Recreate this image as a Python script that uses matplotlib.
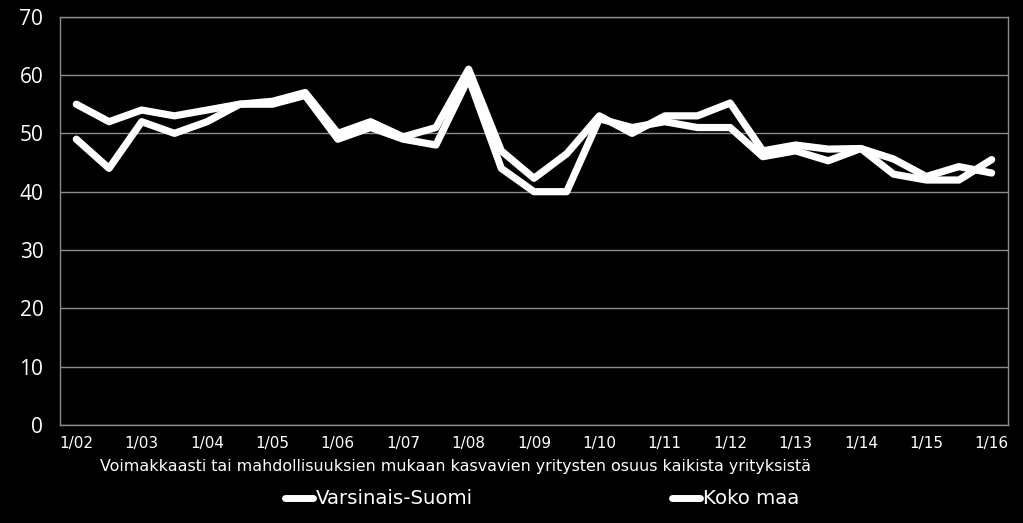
import matplotlib
matplotlib.use("Agg")
import matplotlib.pyplot as plt
from matplotlib.lines import Line2D

cond = "DejaVu Sans"

periods = ["1/02", "7/02", "1/03", "7/03", "1/04", "7/04", "1/05", "7/05", "1/06", "7/06",
           "1/07", "7/07", "1/08", "7/08", "1/09", "7/09", "1/10", "7/10", "1/11", "7/11",
           "1/12", "7/12", "1/13", "7/13", "1/14", "7/14", "1/15", "7/15", "1/16"]
varsinais_suomi = [49, 44, 52, 50, 52, 55, 55, 56.5, 49, 51, 49, 48, 59.5, 44, 40, 40,
                   52.5, 51, 52, 51, 51, 46, 47, 45.3, 47.4, 43, 42, 42, 45.5]
koko_maa = [55, 52, 54, 53, 54, 55, 55.5, 57, 50, 52, 49.4, 51, 61, 47, 42.3, 46.5,
            53, 50, 53, 53, 55.2, 47, 48, 47.3, 47.4, 45.6, 42.6, 44.3, 43.2]
series_names = ["Varsinais-Suomi", "Koko maa"]
tick_labels = periods[::2]
yticks = [0, 10, 20, 30, 40, 50, 60, 70]

fig = plt.figure(figsize=(10.23, 5.23), dpi=100, facecolor="black")
ax = fig.add_axes([60/1023, 1-425/523, (1008-60)/1023, (425-16.7)/523])
ax.set_facecolor("black")

x = list(range(len(periods)))
for s in (varsinais_suomi, koko_maa):
    ax.plot(x, s, color="white", lw=5.2, solid_capstyle="round", solid_joinstyle="round")

ax.set_xlim(-0.5, len(periods) - 0.5)
ax.set_ylim(0, 70)
ax.set_yticks(yticks)
ax.set_yticklabels([str(v) for v in yticks], fontsize=15, color="white", family="Open Sans")
ax.set_xticks(x[::2])
ax.set_xticklabels(tick_labels, fontsize=11, color="white", family=cond)
ax.tick_params(axis="both", length=0)
ax.tick_params(axis="y", pad=12)
ax.tick_params(axis="x", pad=8)
ax.grid(axis="y", color="#8c8c8c", lw=1)
ax.set_axisbelow(True)
for sp in ax.spines.values():
    sp.set_color("#8c8c8c")
    sp.set_linewidth(1)

fig.text(100/1023, 1-467/523, "Voimakkaasti tai mahdollisuuksien mukaan kasvavien yritysten osuus kaikista yrityksistä",
         color="white", fontsize=11.4, family=cond, va="center", ha="left")

for name, xpos in zip(series_names, (285, 672)):
    h = Line2D([], [], color="white", lw=5, solid_capstyle="round")
    leg = fig.legend([h], [name], frameon=False, loc="center left",
                     bbox_to_anchor=(xpos/1023, 1-499/523), borderaxespad=0, borderpad=0,
                     handlelength=1.4, handletextpad=0.15,
                     prop={"family": cond, "size": 14.2})
    for t in leg.get_texts():
        t.set_color("white")

fig.savefig("out.png", dpi=100, facecolor="black")
